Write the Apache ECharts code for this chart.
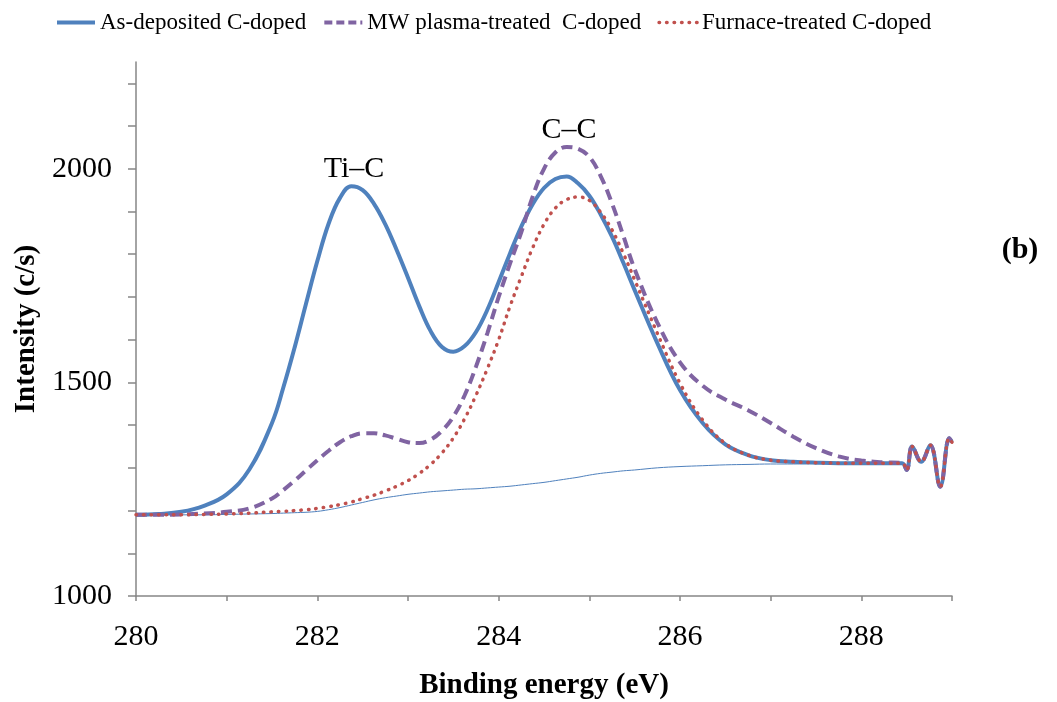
<!DOCTYPE html>
<html>
<head>
<meta charset="utf-8">
<script src="https://cdn.jsdelivr.net/npm/echarts@6/dist/echarts.min.js"></script>
<style>
html,body{margin:0;padding:0;background:#fff;}
#chart{width:1057px;height:702px;}
</style>
</head>
<body>
<div id="chart"></div>
<script>
// Binding energy grid (eV)
const energy = [280, 280.25, 280.5, 280.75, 281, 281.25,
  281.5, 281.625, 281.75, 281.875, 282, 282.125, 282.25, 282.375, 282.5, 282.625, 282.75, 282.875,
  283, 283.125, 283.25, 283.375, 283.5, 283.625, 283.75, 283.875, 284, 284.125, 284.25, 284.375,
  284.5, 284.625, 284.75, 284.875, 285, 285.125, 285.25, 285.375, 285.5,
  285.75, 286, 286.25, 286.5, 286.75, 287, 287.25, 287.5, 287.75, 288, 288.25,
  288.45, 288.5, 288.56, 288.66, 288.76, 288.87, 288.97, 289];

const asDeposited = [1190, 1192, 1197, 1211, 1238, 1296,
  1405, 1488, 1582, 1684, 1784, 1872, 1932, 1959, 1950, 1918, 1870, 1810,
  1745, 1678, 1620, 1583, 1572, 1585, 1618, 1670, 1735, 1802, 1865, 1917,
  1955, 1976, 1982, 1966, 1937, 1893, 1841, 1780, 1716,
  1592, 1482, 1405, 1355, 1330, 1318, 1314, 1312, 1311, 1311, 1311,
  1311, 1295, 1350, 1314, 1353, 1256, 1369, 1360];

const mwPlasma = [1190, 1190, 1191, 1193, 1197, 1205,
  1228, 1248, 1270, 1294, 1318, 1340, 1360, 1374, 1381, 1381, 1376, 1368,
  1360, 1358, 1366, 1387, 1420, 1470, 1537, 1615, 1700, 1778, 1852, 1935,
  2000, 2038, 2051, 2047, 2028, 1983, 1919, 1843, 1765,
  1640, 1547, 1492, 1460, 1435, 1405, 1373, 1346, 1327, 1317, 1313,
  1311, 1295, 1350, 1314, 1353, 1256, 1369, 1360];

const furnace = [1190, 1190, 1190, 1191, 1192, 1194,
  1197, 1198, 1200, 1202, 1205, 1209, 1214, 1220, 1228, 1236, 1246, 1257,
  1270, 1287, 1308, 1335, 1370, 1415, 1470, 1532, 1600, 1678, 1748, 1815,
  1870, 1908, 1928, 1934, 1926, 1898, 1857, 1802, 1740,
  1615, 1498, 1412, 1357, 1330, 1318, 1314, 1312, 1311, 1311, 1311,
  1311, 1295, 1350, 1314, 1353, 1256, 1369, 1360];

const background = [1190, 1190, 1190, 1190, 1191, 1192,
  1193, 1194, 1195, 1196, 1198, 1202, 1207, 1213, 1219, 1225, 1230, 1234,
  1238, 1241, 1244, 1246, 1248, 1250, 1251, 1253, 1255, 1257, 1260, 1263,
  1266, 1270, 1274, 1278, 1283, 1287, 1290, 1293, 1295,
  1300, 1303, 1305, 1307, 1308, 1309, 1309, 1310, 1310, 1310, 1311,
  1311];

const seriesNames = ['As-deposited C-doped', 'MW plasma-treated  C-doped', 'Furnace-treated C-doped'];
const xLabelValues = [280, 282, 284, 286, 288];
const yLabelValues = [1000, 1500, 2000];
const yTickValues = [1000, 1100, 1200, 1300, 1400, 1500, 1600, 1700, 1800, 1900, 2000, 2100, 2200];

function pairs(vals) { return vals.map((v, i) => [energy[i], v]); }

const FONT = 'Liberation Serif';
const BLUE = '#4F81BD', PURPLE = '#8064A2', RED = '#C0504D';
const chart = echarts.init(document.getElementById('chart'));
chart.setOption({
  animation: false,
  backgroundColor: '#ffffff',
  grid: { left: 136, right: 105, top: 62, bottom: 106, outerBoundsMode: 'none', containLabel: false },
  legend: {
    data: [
      { name: seriesNames[0], lineStyle: { color: BLUE, width: 4 } },
      { name: seriesNames[1], lineStyle: { color: PURPLE, width: 4, type: [8, 4] } },
      { name: seriesNames[2], lineStyle: { color: RED, width: 3.5, type: [0.5, 7], cap: 'round' } }
    ],
    left: 55, top: 11, padding: 0,
    itemWidth: 38, itemHeight: 14, itemGap: 16,
    itemStyle: { opacity: 0 },
    textStyle: { fontFamily: FONT, fontSize: 23, color: '#000' }
  },
  xAxis: {
    type: 'value', min: 280, max: 289, interval: 1,
    name: 'Binding energy (eV)', nameLocation: 'middle', nameGap: 75,
    nameTextStyle: { fontFamily: FONT, fontSize: 29, fontWeight: 'bold', color: '#000' },
    axisLine: { show: true, lineStyle: { color: '#868686', width: 1.5 } },
    axisTick: { show: true, length: 5, lineStyle: { color: '#868686', width: 1.5 } },
    axisLabel: { customValues: xLabelValues, margin: 26, fontFamily: FONT, fontSize: 30, color: '#000', formatter: v => String(v) },
    splitLine: { show: false }
  },
  yAxis: {
    type: 'value', min: 1000, max: 2250,
    name: 'Intensity (c/s)', nameLocation: 'middle', nameGap: 80,
    nameTextStyle: { fontFamily: FONT, fontSize: 29, fontWeight: 'bold', color: '#000' },
    axisLine: { show: true, lineStyle: { color: '#868686', width: 1.5 } },
    axisTick: { show: true, length: 8, customValues: yTickValues, lineStyle: { color: '#868686', width: 1.5 } },
    axisLabel: { customValues: yLabelValues, margin: 24, fontFamily: FONT, fontSize: 30, color: '#000', formatter: v => String(v) },
    splitLine: { show: false }
  },
  series: [
    {
      name: 'background', type: 'line', data: pairs(background), smooth: 0.4,
      symbol: 'none', lineStyle: { color: BLUE, width: 1 }, z: 1
    },
    {
      name: seriesNames[0], type: 'line', data: pairs(asDeposited), smooth: 0.4,
      symbol: 'none', itemStyle: { color: BLUE },
      lineStyle: { color: BLUE, width: 4 }, z: 2
    },
    {
      name: seriesNames[1], type: 'line', data: pairs(mwPlasma), smooth: 0.4,
      symbol: 'none', itemStyle: { color: PURPLE },
      lineStyle: { color: PURPLE, width: 4, type: [11, 6] }, z: 3
    },
    {
      name: seriesNames[2], type: 'line', data: pairs(furnace), smooth: 0.4,
      symbol: 'none', itemStyle: { color: RED },
      lineStyle: { color: RED, width: 3.5, type: [0.5, 7], cap: 'round' }, z: 4
    }
  ],
  graphic: [
    { type: 'text', x: 354, y: 169, style: { text: 'Ti–C', font: '30px "Liberation Serif"', fill: '#000', align: 'center', verticalAlign: 'middle' } },
    { type: 'text', x: 569, y: 130, style: { text: 'C–C', font: '30px "Liberation Serif"', fill: '#000', align: 'center', verticalAlign: 'middle' } },
    { type: 'text', x: 1020, y: 250, style: { text: '(b)', font: 'bold 30px "Liberation Serif"', fill: '#000', align: 'center', verticalAlign: 'middle' } }
  ]
});
</script>
</body>
</html>
